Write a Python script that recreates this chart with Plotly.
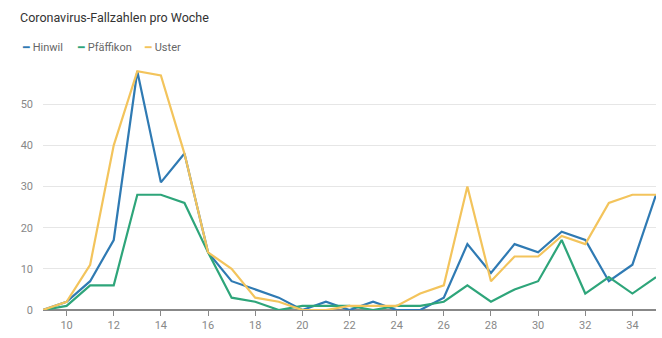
import plotly.graph_objects as go

weeks = list(range(9, 36))
hinwil = [0, 2, 7, 17, 58, 31, 38, 14, 7, 5, 3, 0, 2, 0, 2, 0, 0, 3, 16, 9, 16, 14, 19, 17, 7, 11, 28]
pfaeffikon = [0, 1, 6, 6, 28, 28, 26, 14, 3, 2, 0, 1, 1, 1, 0, 1, 1, 2, 6, 2, 5, 7, 17, 4, 8, 4, 8]
uster = [0, 2, 11, 40, 58, 57, 38, 14, 10, 3, 2, 0, 0, 1, 1, 1, 4, 6, 30, 7, 13, 13, 18, 16, 26, 28, 28]

names = ["Hinwil", "Pfäffikon", "Uster"]
colors = ["#2f7ab3", "#2ea57a", "#f3c45c"]
series = [hinwil, pfaeffikon, uster]

fig = go.Figure()
for name, color, vals in zip(names, colors, series):
    fig.add_trace(go.Scatter(x=weeks, y=vals, mode="lines", name=name,
                             line=dict(color=color, width=2.2), showlegend=False))

# legend drawn as colored dash + label
legend_x = [20, 75, 142]
for name, color, lx in zip(names, colors, legend_x):
    fig.add_annotation(xref="paper", yref="paper", x=0, y=1, showarrow=False,
                       xanchor="left", yanchor="middle",
                       text=f"<span style='color:{color}'>━</span> {name}",
                       font=dict(family="Roboto", size=11, color="#666"),
                       xshift=lx - 43, yshift=63 - 47)

fig.update_layout(
    width=662, height=338,
    margin=dict(l=43, r=6, t=63, b=25),
    paper_bgcolor="white", plot_bgcolor="white",
    title=dict(text="Coronavirus-Fallzahlen pro Woche", x=20 / 662, xref="container",
               xanchor="left", y=1 - 18 / 338, yanchor="middle",
               font=dict(family="Roboto", size=12.5, color="#333")),
    xaxis=dict(range=[9, 35], tickvals=list(range(10, 35, 2)), showgrid=False,
               ticks="outside", ticklen=5, tickcolor="#888", showline=False,
               tickfont=dict(family="Roboto", size=11, color="#888"), zeroline=False),
    yaxis=dict(range=[0, 60], tickvals=[0, 10, 20, 30, 40, 50], showgrid=True,
               gridcolor="#e6e6e6", gridwidth=1, zeroline=True, zerolinecolor="#888",
               zerolinewidth=1.5, showline=False,
               tickfont=dict(family="Roboto", size=11, color="#888"), ticklabelstandoff=9),
)
fig.write_html("out.html")
